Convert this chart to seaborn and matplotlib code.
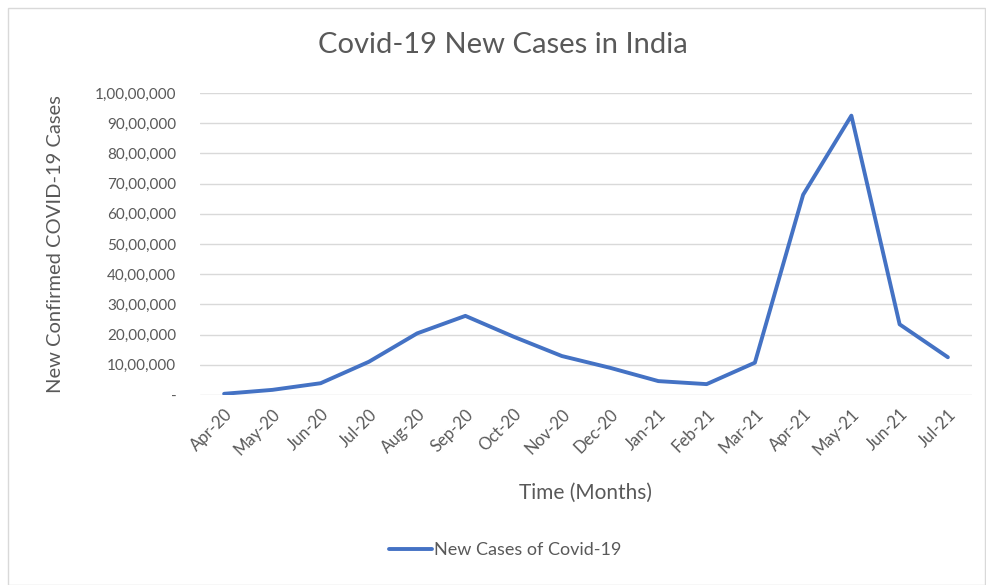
import pandas as pd
import matplotlib
matplotlib.use("Agg")
import matplotlib.pyplot as plt
import seaborn as sns
from matplotlib.ticker import FuncFormatter, MultipleLocator
from matplotlib.patches import Rectangle

# data
months = ["Apr-20", "May-20", "Jun-20", "Jul-20", "Aug-20", "Sep-20", "Oct-20", "Nov-20",
          "Dec-20", "Jan-21", "Feb-21", "Mar-21", "Apr-21", "May-21", "Jun-21", "Jul-21"]
new_cases = [40000, 170000, 390000, 1100000, 2040000, 2620000, 1930000, 1290000,
             900000, 460000, 360000, 1070000, 6630000, 9250000, 2340000, 1250000]
series_name = "New Cases of Covid-19"

df = pd.DataFrame({"month": months, "cases": new_cases})
df["pos"] = range(len(df))

sns.set_style("white")
plt.rcParams["font.family"] = ["Lato", "DejaVu Sans"]
plt.rcParams["ytick.major.pad"] = 17
plt.rcParams["xtick.major.pad"] = 8

grey = "#595959"


def indian_fmt(v, _):
    # Indian digit grouping: 1,00,00,000 ; zero shown as a dash
    v = int(round(v))
    if v == 0:
        return "-"
    s = str(v)
    last3 = s[-3:]
    rest = s[:-3]
    parts = []
    while len(rest) > 2:
        parts.insert(0, rest[-2:])
        rest = rest[:-2]
    if rest:
        parts.insert(0, rest)
    return ",".join(parts + [last3])


fig = plt.figure(figsize=(9.87, 5.85), dpi=100)
ax = fig.add_axes([200 / 987, 190 / 585, 772 / 987, 302 / 585])

sns.lineplot(data=df, x="pos", y="cases", ax=ax, color="#4472C4", linewidth=2.8,
             label=series_name, sort=False)

ax.set_xlim(-0.5, len(months) - 0.5)
ax.set_ylim(0, 10000000)
ax.yaxis.set_major_locator(MultipleLocator(1000000))
ax.yaxis.set_major_formatter(FuncFormatter(indian_fmt))
ax.set_xticks(df["pos"])
ax.set_xticklabels(months, rotation=45, ha="right", rotation_mode="anchor")
ax.tick_params(axis="both", colors=grey, length=0)
ax.tick_params(axis="y", labelsize=11)
ax.tick_params(axis="x", labelsize=12)
ax.grid(axis="y", color="#d9d9d9", linewidth=1)
ax.grid(axis="x", visible=False)
for sp in ax.spines.values():
    sp.set_visible(False)

ax.set_xlabel("Time (Months)", color=grey, fontsize=15, labelpad=18)
ax.set_ylabel("New Confirmed COVID-19 Cases", color=grey, fontsize=14.5, labelpad=22)
fig.text(503 / 987, 1 - 45 / 585, "Covid-19 New Cases in India", ha="center", va="center",
         color=grey, fontsize=21)

leg = ax.legend(loc="center", bbox_to_anchor=(505 / 987, 1 - 550 / 585), bbox_transform=fig.transFigure,
                frameon=False, handlelength=2.4, handletextpad=0.1, fontsize=13)
for t in leg.get_texts():
    t.set_color(grey)

fig.patches.append(Rectangle((8 / 987, 0), 977 / 987, 577 / 585, transform=fig.transFigure,
                             fill=False, edgecolor="#d9d9d9", linewidth=1))

fig.savefig("out.png", dpi=100)
